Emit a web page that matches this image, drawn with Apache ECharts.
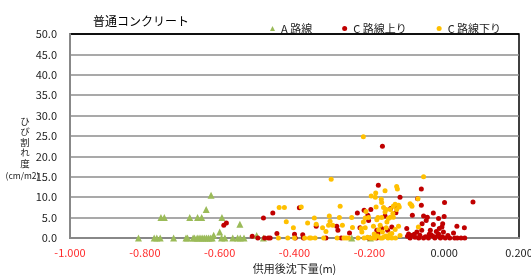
<!DOCTYPE html>
<html lang="ja">
<head>
    <meta charset="utf-8">
    <title>普通コンクリート</title>
    <script src="https://cdn.jsdelivr.net/npm/echarts@6/dist/echarts.min.js"></script>
    <style>
        html, body { margin: 0; padding: 0; background: #fff; }
        #main { width: 531px; height: 275px; }
    </style>
</head>
<body>
    <div id="main"></div>
    <script>
        // 系列名
        var seriesNames = ['A 路線', 'C 路線上り', 'C 路線下り'];
        // 縦書きの軸名
        var yNameChars = ['ひ', 'び', '割', 'れ', '度'];

        // A 路線 [沈下量, ひび割れ度]
        var routeA = [
            [-0.817, 0], [-0.775, 0], [-0.768, 0], [-0.759, 0], [-0.723, 0], [-0.690, 0], [-0.686, 0],
            [-0.671, 0], [-0.667, 0], [-0.660, 0], [-0.655, 0], [-0.650, 0], [-0.645, 0], [-0.640, 0],
            [-0.635, 0], [-0.630, 0], [-0.625, 0], [-0.620, 0], [-0.616, 0.7], [-0.600, 1.5], [-0.595, 0],
            [-0.586, 0], [-0.565, 0], [-0.552, 0], [-0.545, 0], [-0.535, 0], [-0.501, 0.6], [-0.483, 0],
            [-0.757, 5], [-0.748, 5], [-0.680, 5], [-0.659, 5], [-0.648, 5], [-0.594, 5],
            [-0.636, 7], [-0.623, 10.5], [-0.546, 3.4], [-0.247, 0], [-0.197, 0]
        ];

        // C 路線上り
        var routeCUp = [
            [-0.589, 3.1], [-0.582, 3.7], [-0.513, 0.4], [-0.498, 0], [-0.483, 4.9], [-0.480, 0], [-0.470, 0],
            [-0.465, 0], [-0.458, 6.1], [-0.447, 1.1], [-0.400, 0.9], [-0.398, 0], [-0.387, 7.4], [-0.378, 0.8],
            [-0.376, 0], [-0.342, 2.9], [-0.316, 0], [-0.287, 2.9], [-0.284, 1.9], [-0.275, 0], [-0.253, 1.2],
            [-0.232, 6.1], [-0.225, 2.5], [-0.214, 6.8], [-0.204, 5.6], [-0.202, 4.3], [-0.202, 0], [-0.196, 7.0],
            [-0.180, 1.9], [-0.180, 0], [-0.177, 1.1], [-0.176, 12.9], [-0.167, 2.3], [-0.165, 22.5], [-0.158, 5.4],
            [-0.151, 1.9], [-0.143, 7.2], [-0.140, 2.7], [-0.129, 6.2], [-0.127, 7.6], [-0.118, 10.0], [-0.100, 2.3],
            [-0.098, 0.4], [-0.095, 1.0], [-0.091, 0], [-0.088, 0.6], [-0.085, 5.6], [-0.080, 0.9], [-0.078, 0.2],
            [-0.073, 1.5], [-0.071, 9.6], [-0.068, 0], [-0.065, 0.7], [-0.061, 12.0], [-0.061, 8.0], [-0.060, 1.9],
            [-0.059, 3.5], [-0.055, 5.4], [-0.055, 0], [-0.050, 0.3], [-0.048, 4.3], [-0.045, 5.1], [-0.042, 0],
            [-0.040, 0.9], [-0.037, 1.9], [-0.035, 0.8], [-0.030, 0.4], [-0.029, 6.1], [-0.029, 3.3], [-0.025, 0],
            [-0.021, 1.6], [-0.018, 0.5], [-0.015, 4.8], [-0.015, 1.0], [-0.013, 2.3], [-0.010, 0], [-0.006, 2.7],
            [-0.005, 0.3], [-0.004, 3.5], [-0.002, 1.5], [0.000, 5.3], [0.001, 8.7], [0.003, 0], [0.010, 0.6],
            [0.015, 0], [0.025, 1.2], [0.028, 0], [0.034, 2.9], [0.035, 0], [0.045, 0], [0.054, 2.5], [0.055, 0],
            [0.077, 8.8]
        ];

        // C 路線下り
        var routeCDown = [
            [-0.443, 0], [-0.441, 7.5], [-0.427, 7.5], [-0.422, 4.0], [-0.418, 0], [-0.403, 2.5], [-0.400, 0],
            [-0.382, 7.6], [-0.373, 0], [-0.365, 3.7], [-0.360, 0], [-0.356, 0], [-0.347, 4.9], [-0.345, 0],
            [-0.342, 3.4], [-0.325, 2.5], [-0.322, 0], [-0.316, 1.6], [-0.309, 3.1], [-0.307, 5.4], [-0.305, 4.1],
            [-0.302, 14.4], [-0.298, 3.1], [-0.286, 0], [-0.280, 5.0], [-0.278, 7.8], [-0.272, 3.1], [-0.268, 0],
            [-0.262, 0], [-0.256, 0], [-0.247, 5.0], [-0.245, 2.6], [-0.230, 0], [-0.222, 2.3], [-0.220, 1.5],
            [-0.216, 24.8], [-0.216, 3.9], [-0.214, 0], [-0.211, 4.9], [-0.211, 2.5], [-0.209, 6.5], [-0.205, 0.2],
            [-0.202, 5.0], [-0.198, 0], [-0.195, 10.3], [-0.191, 0], [-0.189, 2.9], [-0.187, 1.0], [-0.185, 0],
            [-0.184, 10.0], [-0.183, 11.0], [-0.182, 7.6], [-0.180, 4.5], [-0.178, 0.5], [-0.177, 5.0], [-0.175, 2.0],
            [-0.171, 3.1], [-0.170, 0], [-0.168, 9.5], [-0.167, 8.7], [-0.167, 5.0], [-0.165, 1.5], [-0.165, 0],
            [-0.162, 7.5], [-0.160, 0.3], [-0.158, 11.6], [-0.158, 6.4], [-0.155, 7.0], [-0.155, 2.5], [-0.155, 0.5],
            [-0.153, 3.9], [-0.150, 0], [-0.149, 4.8], [-0.145, 1.0], [-0.144, 7.0], [-0.144, 5.1], [-0.140, 1.1],
            [-0.140, 0], [-0.137, 6.0], [-0.136, 7.8], [-0.136, 5.1], [-0.131, 8.3], [-0.131, 2.1], [-0.130, 0],
            [-0.127, 12.6], [-0.127, 7.0], [-0.125, 12.0], [-0.122, 8.0], [-0.122, 2.9], [-0.120, 7.6], [-0.118, 0.6],
            [-0.091, 8.4], [-0.087, 8.0], [-0.086, 7.8], [-0.070, 9.6], [-0.069, 2.7], [-0.055, 15.0]
        ];

        var fontJP = '"Noto Sans CJK JP", "Noto Sans", sans-serif';

        var myChart = echarts.init(document.getElementById('main'));

        // 縦書きの軸名を一文字ずつ置く
        var yNameGraphics = yNameChars.map(function (ch, i) {
            return {
                type: 'text',
                x: 25,
                y: 121 + i * 10.5,
                style: {
                    text: ch,
                    fontSize: 9.5,
                    fill: '#222',
                    fontFamily: fontJP,
                    align: 'center',
                    verticalAlign: 'middle'
                }
            };
        });
        yNameGraphics.push({
            type: 'text',
            x: 22.5,
            y: 176,
            style: {
                text: '(cm/m2)',
                fontSize: 8.5,
                fill: '#222',
                fontFamily: fontJP,
                align: 'center',
                verticalAlign: 'middle'
            }
        });

        var option = {
            animation: false,
            textStyle: { fontFamily: fontJP },
            title: {
                text: '普通コンクリート',
                left: 88,
                top: 10,
                textStyle: { fontSize: 12, fontWeight: 'normal', color: '#000', fontFamily: fontJP }
            },
            legend: {
                data: [
                    { name: seriesNames[0], icon: 'triangle' },
                    { name: seriesNames[1], icon: 'circle' },
                    { name: seriesNames[2], icon: 'circle' }
                ],
                left: 265,
                top: 18,
                itemWidth: 5,
                itemHeight: 5,
                itemGap: 30,
                textStyle: { fontSize: 11, color: '#222', fontFamily: fontJP, padding: [0, 0, 0, 1] }
            },
            grid: {
                left: 70,
                right: 12,
                top: 34,
                bottom: 37,
                outerBoundsMode: 'none',
                containLabel: false,
                show: true,
                borderColor: '#000',
                borderWidth: 1.5,
                backgroundColor: '#fff'
            },
            xAxis: {
                type: 'value',
                min: -1.0,
                max: 0.2,
                interval: 0.2,
                name: '供用後沈下量(m)',
                nameLocation: 'middle',
                nameGap: 24,
                nameTextStyle: { fontSize: 11, color: '#222', fontFamily: fontJP },
                axisLine: { show: true, onZero: false, lineStyle: { color: '#888', width: 2 } },
                axisTick: { show: false },
                splitLine: { show: false },
                axisLabel: {
                    margin: 9,
                    fontSize: 11,
                    fontFamily: fontJP,
                    formatter: function (v) { return v.toFixed(3); },
                    color: function (v) { return v < 0 ? '#ff2b2b' : '#222'; }
                }
            },
            yAxis: {
                type: 'value',
                min: 0,
                max: 50,
                interval: 5,
                axisLine: { show: true, onZero: false, lineStyle: { color: '#888', width: 2 } },
                axisTick: { show: false },
                splitLine: {
                    show: true,
                    lineStyle: {
                        color: ['#8c8c8c', '#8c8c8c', '#8c8c8c', '#8c8c8c', '#8c8c8c', '#8c8c8c',
                                '#8c8c8c', '#8c8c8c', '#8c8c8c', '#8c8c8c', '#000'],
                        width: 1.5
                    }
                },
                axisLabel: {
                    margin: 13,
                    fontSize: 11,
                    color: '#222',
                    fontFamily: fontJP,
                    formatter: function (v) { return v.toFixed(1); }
                }
            },
            graphic: yNameGraphics,
            series: [
                {
                    name: seriesNames[0],
                    type: 'scatter',
                    symbol: 'triangle',
                    symbolSize: 7,
                    itemStyle: { color: '#9bbb59', opacity: 1 },
                    data: routeA
                },
                {
                    name: seriesNames[1],
                    type: 'scatter',
                    symbol: 'circle',
                    symbolSize: 5,
                    itemStyle: { color: '#c00000', opacity: 1 },
                    data: routeCUp
                },
                {
                    name: seriesNames[2],
                    type: 'scatter',
                    symbol: 'circle',
                    symbolSize: 5,
                    itemStyle: { color: '#ffc000', opacity: 1 },
                    data: routeCDown
                }
            ]
        };

        myChart.setOption(option);
        window.onresize = function () {
            myChart.resize();
        };
    </script>
</body>
</html>
